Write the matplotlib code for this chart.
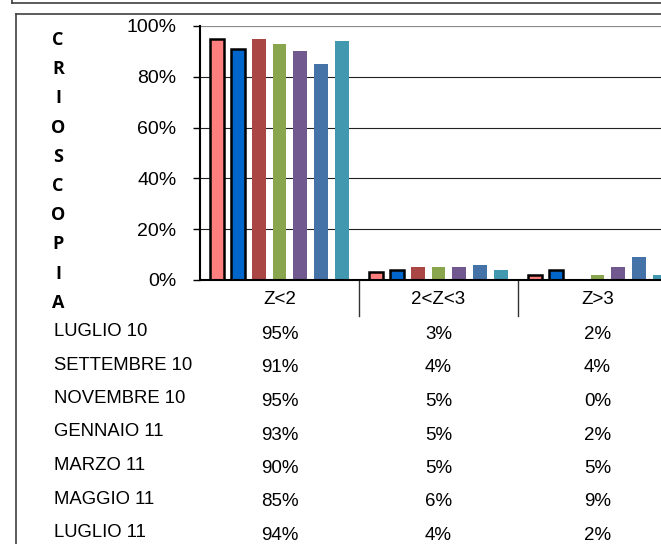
import matplotlib.pyplot as plt
import matplotlib.transforms as mtransforms
from matplotlib.lines import Line2D
import numpy as np

categories = ["Z<2", "2<Z<3", "Z>3"]
series_names = ["LUGLIO 10", "SETTEMBRE 10", "NOVEMBRE 10", "GENNAIO 11",
                "MARZO 11", "MAGGIO 11", "LUGLIO 11"]
values = [
    [95, 3, 2],
    [91, 4, 4],
    [95, 5, 0],
    [93, 5, 2],
    [90, 5, 5],
    [85, 6, 9],
    [94, 4, 2],
]
colors = ["#FF7F7F", "#0066CC", "#AA4643", "#89A54E", "#71588F", "#4572A7", "#4198AF"]
y_ticks = [0, 20, 40, 60, 80, 100]
axis_title = "CRIOSCOPIA"

W, H = 661, 544
fig = plt.figure(figsize=(W / 100, H / 100), dpi=100)
fig.patch.set_facecolor("white")

# axes in pixel layout (extends past the right edge like the original crop)
ax_left, ax_top, ax_bottom, cat_w = 200, 26, 280, 159
ax = fig.add_axes([ax_left / W, 1 - ax_bottom / H, 3 * cat_w / W, (ax_bottom - ax_top) / H])
ax.set_xlim(0, 3)
ax.set_ylim(0, 100)

step, bw = 0.130, 0.088
x = np.arange(len(categories)) + 0.5
for j, (vals, col) in enumerate(zip(values, colors)):
    edge = "black" if j < 2 else col
    lw = 1.8 if j < 2 else 0
    ax.bar(x + (j - 3) * step, vals, width=bw, color=col, edgecolor=edge,
           linewidth=lw, zorder=3)

for t in y_ticks[1:-1]:
    ax.axhline(t, color="#222222", lw=0.8, zorder=1)
ax.axhline(100, color="#8a8a8a", lw=1.6, zorder=1)

for s in ["top", "right"]:
    ax.spines[s].set_visible(False)
ax.spines["left"].set_linewidth(1.5)
ax.spines["bottom"].set_linewidth(1.5)
ax.spines["bottom"].set_zorder(4)

ax.set_yticks(y_ticks)
ax.set_yticklabels([f"{t}%" for t in y_ticks], fontsize=14, family="Liberation Sans")
ax.tick_params(axis="y", length=5, width=1, pad=12)
ax.set_xticks([])

# category labels and table dividers
trans = mtransforms.blended_transform_factory(ax.transData, fig.transFigure)
for xi, c in zip(x, categories):
    ax.text(xi, 1 - 299 / H, c, transform=trans, ha="center", va="center",
            fontsize=13.5, family="Liberation Sans", clip_on=False)
for d in [1, 2]:
    ax.plot([d, d], [1 - ax_bottom / H, 1 - 316 / H], transform=trans,
            color="#333333", lw=1, clip_on=False)

# data table
row_y = 331.5
for i, (name, vals) in enumerate(zip(series_names, values)):
    yy = row_y + i * 33.5
    fig.text(54 / W, 1 - yy / H, name, ha="left", va="center",
             fontsize=13.3, family="Liberation Sans")
    for xi, v in zip(x, vals):
        ax.text(xi, 1 - (yy + 3) / H, f"{v}%", transform=trans, ha="center",
                va="center", fontsize=13.5, family="Liberation Sans", clip_on=False)

# vertical axis title, one letter per line
for k, ch in enumerate(axis_title):
    fig.text(58 / W, 1 - (40 + k * 29.2) / H, ch, ha="center", va="center",
             fontsize=13, fontweight="bold", family="Open Sans")

# frames
fig.add_artist(Line2D([12 / W, 1], [1 - 3 / H, 1 - 3 / H], color="#404040", lw=1.2))
fig.add_artist(Line2D([12 / W, 12 / W], [1, 1 - 3 / H], color="#404040", lw=1.2))
fig.add_artist(Line2D([16 / W, 1], [1 - 14 / H, 1 - 14 / H], color="#404040", lw=1.2))
fig.add_artist(Line2D([16 / W, 16 / W], [1 - 14 / H, 0], color="#404040", lw=1.2))

fig.savefig("out.png", dpi=100)
